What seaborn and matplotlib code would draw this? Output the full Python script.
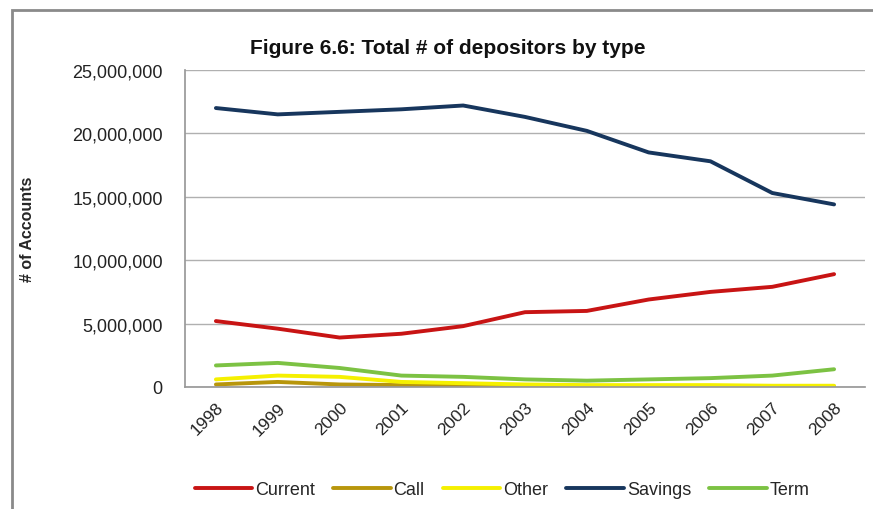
import matplotlib
matplotlib.use("Agg")
import matplotlib.pyplot as plt
import matplotlib.ticker as mticker
from matplotlib.patches import Rectangle
import seaborn as sns
import pandas as pd

years = ["1998", "1999", "2000", "2001", "2002", "2003", "2004", "2005", "2006", "2007", "2008"]
current = [5.2e6, 4.6e6, 3.9e6, 4.2e6, 4.8e6, 5.9e6, 6.0e6, 6.9e6, 7.5e6, 7.9e6, 8.9e6]
call = [0.2e6, 0.4e6, 0.2e6, 0.15e6, 0.1e6, 0.07e6, 0.05e6, 0.05e6, 0.05e6, 0.05e6, 0.05e6]
other = [0.6e6, 0.9e6, 0.8e6, 0.4e6, 0.3e6, 0.2e6, 0.15e6, 0.15e6, 0.15e6, 0.1e6, 0.1e6]
savings = [22.0e6, 21.5e6, 21.7e6, 21.9e6, 22.2e6, 21.3e6, 20.2e6, 18.5e6, 17.8e6, 15.3e6, 14.4e6]
term = [1.7e6, 1.9e6, 1.5e6, 0.9e6, 0.8e6, 0.6e6, 0.5e6, 0.6e6, 0.7e6, 0.9e6, 1.4e6]

series_names = ["Current", "Call", "Other", "Savings", "Term"]
series_values = [current, call, other, savings, term]
colors = {"Current": "#c81414", "Call": "#b8960c", "Other": "#f5f000",
          "Savings": "#17365d", "Term": "#7cc243"}

rows = []
for name, vals in zip(series_names, series_values):
    for i, (y, v) in enumerate(zip(years, vals)):
        rows.append({"idx": i, "Year": y, "Type": name, "Accounts": v})
df = pd.DataFrame(rows)

sns.set_theme(style="white")
plt.rcParams["font.family"] = ["Liberation Sans Narrow", "Liberation Sans", "DejaVu Sans"]

fig = plt.figure(figsize=(8.73, 5.10), dpi=100)
ax = fig.add_axes([185/873, 1-388/510, (865-185)/873, (388-71)/510])

sns.lineplot(data=df, x="idx", y="Accounts", hue="Type", palette=colors,
             hue_order=series_names, linewidth=2.8, ax=ax, legend=True)

ax.set_xlim(-0.5, len(years)-0.5)
ax.set_ylim(0, 25e6)
ax.yaxis.set_major_locator(mticker.MultipleLocator(5e6))
ax.yaxis.set_major_formatter(mticker.FuncFormatter(lambda v, p: f"{int(v):,}"))
ax.set_xticks(range(len(years)))
ax.set_xticklabels(years, rotation=45, ha="right", rotation_mode="anchor", fontsize=12.5, color="#222222")
ax.xaxis.set_minor_locator(mticker.FixedLocator([i + 0.5 for i in range(-1, len(years))]))
ax.tick_params(axis="x", which="major", length=0, pad=9)
ax.tick_params(axis="x", which="minor", length=5, color="#999999", direction="out")
ax.tick_params(axis="y", which="major", length=5, color="#999999", direction="out", labelsize=13, labelcolor="#222222", pad=11)
ax.grid(axis="y", color="#b0b0b0", linewidth=1)
ax.set_axisbelow(True)
for s in ["top", "right"]:
    ax.spines[s].set_visible(False)
ax.spines["left"].set_color("#999999")
ax.spines["bottom"].set_color("#999999")
ax.set_xlabel("")
ax.set_ylabel("# of Accounts", fontsize=11.5, fontweight="bold")
ax.yaxis.set_label_coords((35-185)/680, 0.5)

fig.text(448/873, 1-48/510, "Figure 6.6: Total # of depositors by type", ha="center", va="center",
         fontsize=15, fontweight="bold", color="#111111")

handles, labels = ax.get_legend_handles_labels()
ax.legend(handles, labels, loc="center", bbox_to_anchor=(502/873, 1-491/510),
          bbox_transform=fig.transFigure, ncol=5, frameon=False, fontsize=13,
          handlelength=3.2, handletextpad=0.15, columnspacing=1.0)

fig.patches.append(Rectangle((12/873, -0.1), 1.2, 1-11/510+0.1, transform=fig.transFigure,
                             fill=False, edgecolor="#8a8a8a", linewidth=2))

fig.savefig("out.png", dpi=100)
